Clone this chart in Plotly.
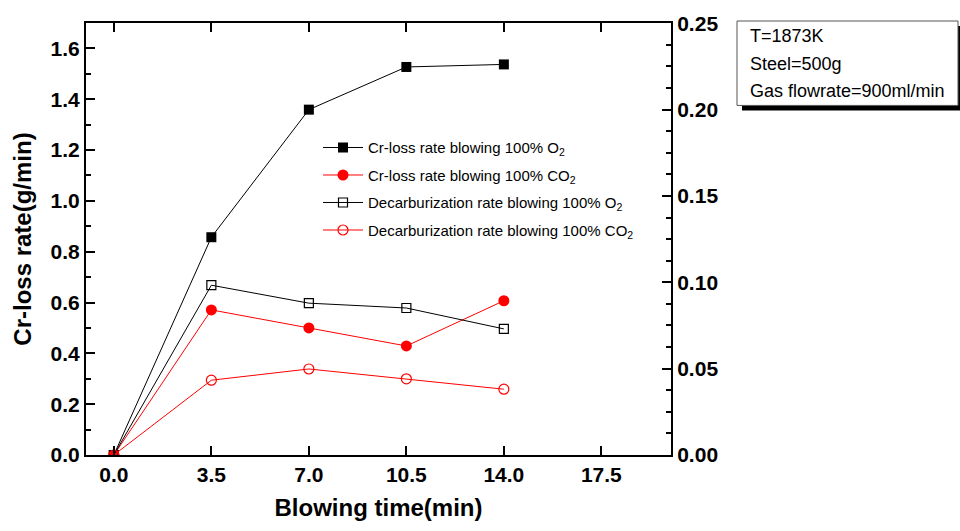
import plotly.graph_objects as go

time = [0.0, 3.5, 7.0, 10.5, 14.0]
cr_o2 = [0.0, 0.857, 1.359, 1.527, 1.537]
cr_co2 = [0.0, 0.571, 0.500, 0.429, 0.607]
dc_o2 = [0.0, 0.0983, 0.0879, 0.0851, 0.0730]
dc_co2 = [0.0, 0.0433, 0.0498, 0.0441, 0.0381]

names = [
    "Cr-loss rate blowing 100% O<sub>2</sub>",
    "Cr-loss rate blowing 100% CO<sub>2</sub>",
    "Decarburization rate blowing 100% O<sub>2</sub>",
    "Decarburization rate blowing 100% CO<sub>2</sub>",
]
info_lines = ["T=1873K", "Steel=500g", "Gas flowrate=900ml/min"]
x_ticks = [0, 3.5, 7, 10.5, 14, 17.5]
x_ticktext = ["0.0", "3.5", "7.0", "10.5", "14.0", "17.5"]
y_ticks = [0, 0.2, 0.4, 0.6, 0.8, 1.0, 1.2, 1.4, 1.6]
y_ticktext = ["0.0", "0.2", "0.4", "0.6", "0.8", "1.0", "1.2", "1.4", "1.6"]
y2_ticks = [0, 0.05, 0.10, 0.15, 0.20, 0.25]
y2_ticktext = ["0.00", "0.05", "0.10", "0.15", "0.20", "0.25"]

L, R, T, B = 86, 671, 20, 455
W, H = 960, 531
PW, PH = R - L, B - T

def px(x):
    return (x - L) / PW

def py(y):
    return 1 - (y - T) / PH

FONT = "Liberation Sans, Arial"

fig = go.Figure()
fig.add_trace(go.Scatter(x=time, y=cr_o2, name=names[0], mode="lines+markers",
                         line=dict(color="black", width=1),
                         marker=dict(symbol="square", size=10, color="black"),
                         legendgroup="a"))
fig.add_trace(go.Scatter(x=time, y=cr_co2, name=names[1], mode="lines+markers",
                         line=dict(color="red", width=1),
                         marker=dict(symbol="circle", size=11, color="red"),
                         legendgroup="b"))
fig.add_trace(go.Scatter(x=time, y=dc_o2, name=names[2], mode="lines+markers", yaxis="y2",
                         line=dict(color="black", width=1),
                         marker=dict(symbol="square-open", size=9, color="black", line=dict(width=1.2)),
                         legendgroup="c"))
fig.add_trace(go.Scatter(x=time, y=dc_co2, name=names[3], mode="lines+markers", yaxis="y2",
                         line=dict(color="red", width=1),
                         marker=dict(symbol="circle-open", size=10, color="red", line=dict(width=1.2)),
                         legendgroup="d"))

tickfont = dict(family=FONT, size=21, color="black", weight="bold")
fig.update_layout(
    width=W, height=H,
    margin=dict(l=L, r=W - R, t=T, b=H - B),
    paper_bgcolor="white", plot_bgcolor="white",
    showlegend=True,
    legend=dict(x=px(318), y=py(129), xanchor="left", yanchor="top",
                font=dict(family=FONT, size=15, color="black"),
                bgcolor="rgba(0,0,0,0)", tracegroupgap=5, itemwidth=40),
    xaxis=dict(range=[-1, 20], tickvals=x_ticks, ticktext=x_ticktext,
               showgrid=False, zeroline=False, showline=True, linecolor="black", linewidth=2,
               ticks="inside", ticklen=9, tickwidth=2, tickcolor="black", mirror="ticks",
               tickfont=tickfont,
               title=dict(text="Blowing time(min)",
                          font=dict(family=FONT, size=24, color="black", weight="bold"),
                          standoff=14)),
    yaxis=dict(range=[0, 1.7], tickvals=y_ticks, ticktext=y_ticktext,
               showgrid=False, zeroline=False, showline=True, linecolor="black", linewidth=2,
               ticks="inside", ticklen=9, tickwidth=2, tickcolor="black",
               minor=dict(ticks="inside", ticklen=5, tickwidth=2, tickcolor="black", dtick=0.1),
               tickfont=tickfont,
               title=dict(text="Cr-loss rate(g/min)",
                          font=dict(family=FONT, size=24, color="black", weight="bold"),
                          standoff=12)),
    yaxis2=dict(range=[0, 0.2501], overlaying="y", side="right",
                tickvals=y2_ticks, ticktext=y2_ticktext,
                showgrid=False, zeroline=False, showline=True, linecolor="black", linewidth=2,
                ticks="inside", ticklen=9, tickwidth=2, tickcolor="black",
                minor=dict(ticks="inside", ticklen=5, tickwidth=2, tickcolor="black", dtick=0.0125),
                tickfont=tickfont),
)

# info box with drop shadow
bx0, bx1, by0, by1 = 737, 958, 18, 103
fig.add_shape(type="rect", xref="paper", yref="paper",
              x0=px(bx0 + 5), x1=px(bx1 + 5), y0=py(by1 + 5), y1=py(by0 + 5),
              fillcolor="black", line=dict(width=0), layer="above")
fig.add_shape(type="rect", xref="paper", yref="paper",
              x0=px(bx0), x1=px(bx1), y0=py(by1), y1=py(by0),
              fillcolor="white", line=dict(color="#555555", width=1), layer="above")
for i, (line_text, yc) in enumerate(zip(info_lines, [33, 61, 88])):
    fig.add_annotation(xref="paper", yref="paper", x=px(bx0 + 11), y=py(yc),
                       xanchor="left", yanchor="middle", align="left", showarrow=False,
                       text=line_text,
                       font=dict(family=FONT, size=18, color="black"))

fig.write_html("out.html")
